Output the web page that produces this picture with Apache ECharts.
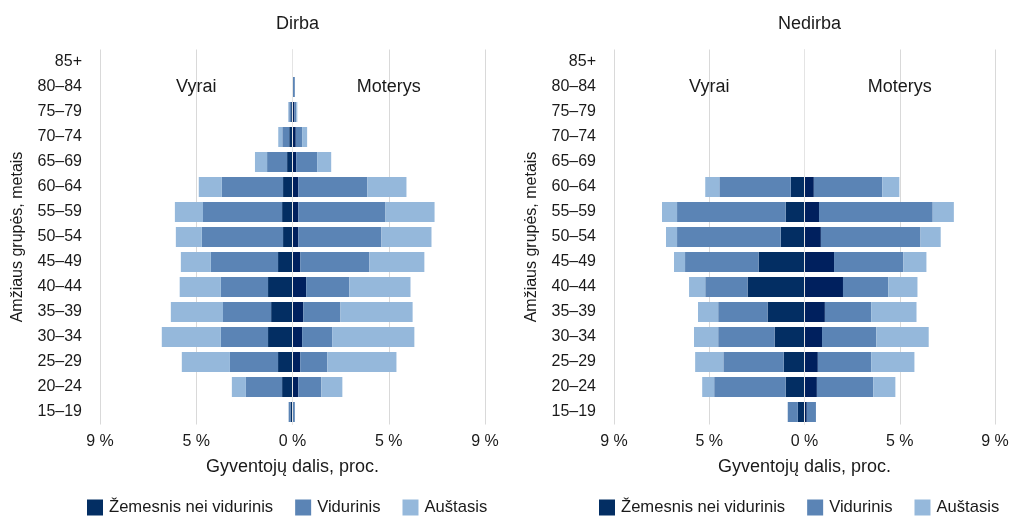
<!DOCTYPE html>
<html>
<head>
<meta charset="utf-8">
<script src="https://cdn.jsdelivr.net/npm/echarts@6/dist/echarts.min.js"></script>
<style>
html,body{margin:0;padding:0;background:#fff;}
#c{width:1014px;height:516px;}
</style>
</head>
<body>
<div id="c"></div>
<script>
// ---- DATA ----
const categories = ['15–19','20–24','25–29','30–34','35–39','40–44','45–49','50–54','55–59','60–64','65–69','70–74','75–79','80–84','85+'];
const panelTitles = ['Dirba', 'Nedirba'];
const levelNames = ['Žemesnis nei vidurinis', 'Vidurinis', 'Auštasis'];
const tickValues = [-10, -5, 0, 5, 10];
const tickLabels = ['9 %', '5 %', '0 %', '5 %', '9 %'];

// Dirba (working) — men
const dirbaMenLow  = [0.10, 0.54, 0.75, 1.27, 1.11, 1.27, 0.75, 0.49, 0.54, 0.49, 0.28, 0.17, 0.07, 0, 0];
const dirbaMenMid  = [0.10, 1.88, 2.50, 2.45, 2.50, 2.45, 3.49, 4.22, 4.11, 3.18, 1.04, 0.36, 0.10, 0, 0];
const dirbaMenHigh = [0.00, 0.73, 2.50, 3.07, 2.71, 2.14, 1.56, 1.35, 1.46, 1.20, 0.63, 0.21, 0.05, 0, 0];
// Dirba — women
const dirbaWomLow  = [0.02, 0.30, 0.40, 0.50, 0.56, 0.71, 0.40, 0.30, 0.30, 0.30, 0.19, 0.17, 0.10, 0, 0];
const dirbaWomMid  = [0.10, 1.20, 1.41, 1.56, 1.93, 2.24, 3.59, 4.32, 4.53, 3.59, 1.09, 0.33, 0.10, 0.12, 0];
const dirbaWomHigh = [0.00, 1.09, 3.59, 4.27, 3.75, 3.18, 2.86, 2.60, 2.55, 2.03, 0.73, 0.26, 0.05, 0, 0];

// Nedirba (not working) — men
const nedirbaMenLow  = [0.35, 0.99, 1.09, 1.57, 1.94, 2.99, 2.41, 1.25, 0.99, 0.72, 0, 0, 0, 0, 0];
const nedirbaMenMid  = [0.53, 3.75, 3.17, 2.96, 2.59, 2.22, 3.86, 5.44, 5.70, 3.75, 0, 0, 0, 0, 0];
const nedirbaMenHigh = [0.00, 0.63, 1.48, 1.27, 1.06, 0.85, 0.58, 0.58, 0.79, 0.74, 0, 0, 0, 0, 0];
// Nedirba — women
const nedirbaWomLow  = [0.12, 0.65, 0.70, 0.92, 1.07, 2.02, 1.55, 0.86, 0.76, 0.49, 0, 0, 0, 0, 0];
const nedirbaWomMid  = [0.48, 2.96, 2.80, 2.85, 2.43, 2.38, 3.64, 5.23, 5.97, 3.59, 0, 0, 0, 0, 0];
const nedirbaWomHigh = [0.00, 1.16, 2.27, 2.75, 2.38, 1.53, 1.21, 1.06, 1.11, 0.90, 0, 0, 0, 0, 0];

// ---- STYLE ----
const FONT = 'Liberation Sans, Arial, sans-serif';
const TXT = '#1a1a1a';
const colorsMen = ['#032e63', '#5b84b5', '#95b8db'];
const colorsWom = ['#00205e', '#5b84b5', '#95b8db'];

const panels = [
  { men: [dirbaMenLow, dirbaMenMid, dirbaMenHigh], wom: [dirbaWomLow, dirbaWomMid, dirbaWomHigh] },
  { men: [nedirbaMenLow, nedirbaMenMid, nedirbaMenHigh], wom: [nedirbaWomLow, nedirbaWomMid, nedirbaWomHigh] }
];

const grids = [
  { left: 100, width: 385, top: 49.5, height: 375 },
  { left: 614, width: 381, top: 49.5, height: 375 }
];

const chart = echarts.init(document.getElementById('c'), null, { renderer: 'canvas' });

const xAxes = [], yAxes = [], series = [], titles = [], legends = [];
grids.forEach((g, i) => {
  xAxes.push({
    type: 'value', gridIndex: i, min: -10, max: 10, interval: 5,
    axisLine: { show: false }, axisTick: { show: false },
    splitLine: { show: true, lineStyle: { color: '#d9d9d9', width: 1 } },
    axisLabel: {
      fontFamily: FONT, fontSize: 16, color: TXT, margin: 9,
      formatter: v => { const k = tickValues.indexOf(Math.round(v)); return k >= 0 ? tickLabels[k] : ''; }
    },
    name: 'Gyventojų dalis, proc.', nameLocation: 'middle', nameGap: 34,
    nameTextStyle: { fontFamily: FONT, fontSize: 18, color: TXT }
  });
  yAxes.push({
    type: 'category', gridIndex: i, data: categories,
    axisLine: { show: false }, axisTick: { show: false },
    axisLabel: { fontFamily: FONT, fontSize: 16, color: TXT, margin: 18 },
    name: 'Amžiaus grupės, metais', nameLocation: 'middle', nameGap: 74, nameRotate: 90,
    nameTextStyle: { fontFamily: FONT, fontSize: 16, color: TXT }
  });
  titles.push({
    text: panelTitles[i], left: g.left + g.width / 2, top: 10, textAlign: 'center',
    textStyle: { fontFamily: FONT, fontSize: 18, fontWeight: 'normal', color: TXT }
  });
  legends.push({
    data: levelNames, left: i === 0 ? 82 : 594, top: 494, itemWidth: 16, itemHeight: 16, itemGap: 22,
    icon: 'rect', selectedMode: false,
    textStyle: { fontFamily: FONT, fontSize: 16.6, color: TXT, padding: [0, 0, 0, 1] }
  });
  const p = panels[i];
  for (let k = 0; k < 3; k++) {
    series.push({
      type: 'bar', name: levelNames[k], xAxisIndex: i, yAxisIndex: i, stack: 'p' + i,
      barWidth: 20, itemStyle: { color: colorsMen[k] },
      data: p.men[k].map(v => -v), silent: true
    });
  }
  for (let k = 0; k < 3; k++) {
    const s = {
      type: 'bar', name: levelNames[k], xAxisIndex: i, yAxisIndex: i, stack: 'p' + i,
      barWidth: 20, itemStyle: { color: colorsWom[k] },
      data: p.wom[k].slice(), silent: true
    };
    if (k === 2) {
      s.markLine = {
        silent: true, symbol: 'none', animation: false,
        label: { show: false },
        lineStyle: { color: '#e4e4e4', width: 1, type: 'solid' },
        data: [{ xAxis: 0 }]
      };
    }
    series.push(s);
  }
});

chart.setOption({
  animation: false,
  backgroundColor: '#fff',
  title: titles,
  legend: legends,
  grid: grids,
  xAxis: xAxes,
  yAxis: yAxes,
  series: series
});

// Sex labels "Vyrai" / "Moterys" positioned through the axes at ±5 % on the 80–84 row
const sexLabels = [['Vyrai', -5], ['Moterys', 5]];
const graphics = [];
grids.forEach((g, i) => {
  sexLabels.forEach(([t, xv]) => {
    const pt = chart.convertToPixel({ gridIndex: i }, [xv, '80–84']);
    graphics.push({
      type: 'text', x: pt[0], y: pt[1],
      style: { text: t, font: '18px ' + FONT, fill: TXT, textAlign: 'center', textVerticalAlign: 'middle' }
    });
  });
});
chart.setOption({ graphic: graphics });
</script>
</body>
</html>
